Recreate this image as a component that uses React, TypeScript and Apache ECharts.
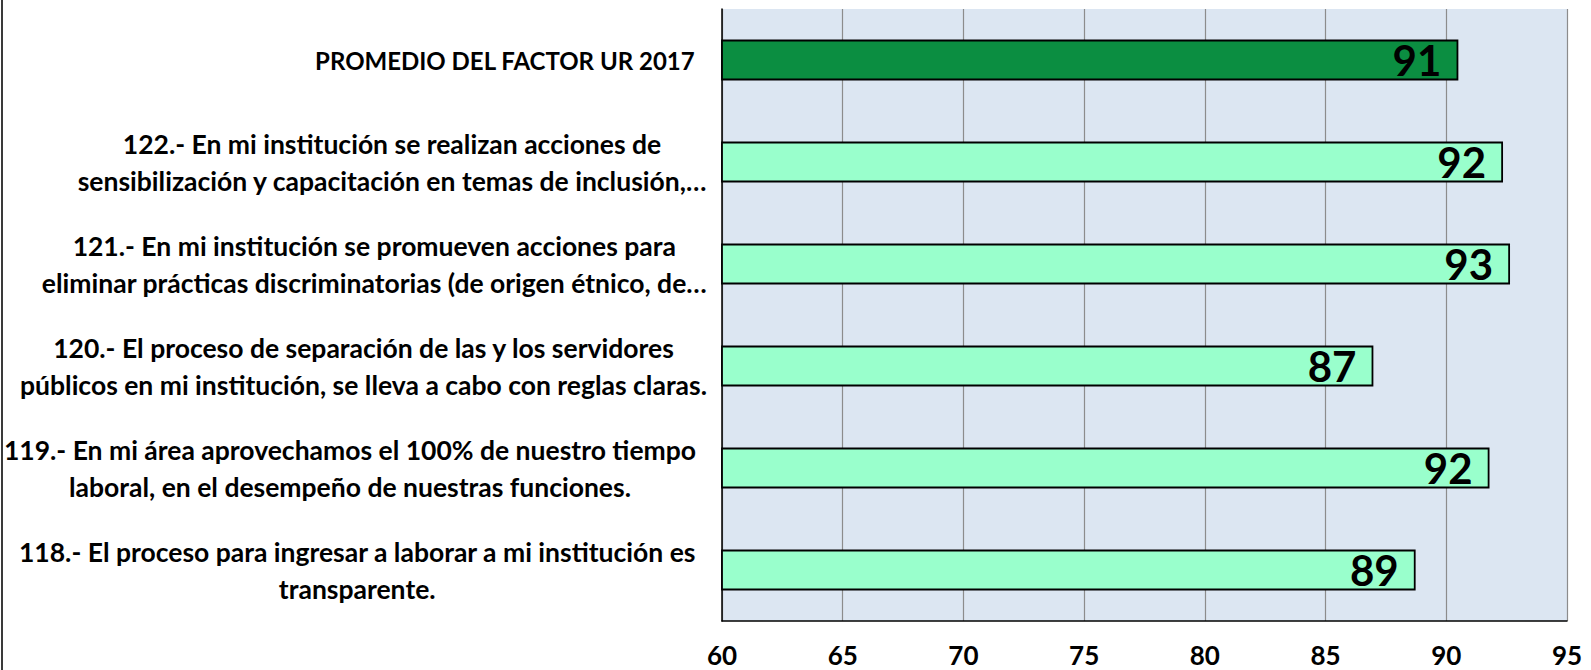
import React, { useEffect, useRef } from "react";
import * as echarts from "echarts";

const categories: string[] = [
  "PROMEDIO DEL FACTOR UR 2017",
  "122.- En mi institución se realizan acciones de\nsensibilización y capacitación en temas de inclusión,…",
  "121.- En mi institución se promueven acciones para\neliminar prácticas discriminatorias (de origen étnico, de…",
  "120.- El proceso de separación de las y los servidores\npúblicos en mi institución, se lleva a cabo con reglas claras.",
  "119.- En mi área aprovechamos el 100% de nuestro tiempo\nlaboral, en el desempeño de nuestras funciones.",
  "118.- El proceso para ingresar a laborar a mi institución es\ntransparente.",
];

const values: number[] = [90.5, 92.35, 92.64, 86.98, 91.79, 88.73];

const xTicks: number[] = [60, 65, 70, 75, 80, 85, 90, 95];

const FONT = "Lato";
const PAD_RIGHT = new Set([4, 5]);

export default function App() {
  const ref = useRef<HTMLDivElement>(null);

  useEffect(() => {
    document.body.style.margin = "0";
    if (!ref.current) return;
    const chart = echarts.init(ref.current, undefined, { renderer: "svg" });

    const base = {
      align: "center",
      fontFamily: FONT,
      fontWeight: "bold",
      fontSize: 26.5,
      lineHeight: 37,
      color: "#000000",
    };

    const option: any = {
      animation: false,
      backgroundColor: "#ffffff",
      grid: {
        left: 722,
        right: 24,
        top: 9,
        bottom: 49,
        containLabel: false,
        outerBoundsMode: "none",
        show: true,
        backgroundColor: "#DCE6F2",
        borderWidth: 0,
      },
      xAxis: {
        type: "value",
        min: xTicks[0],
        max: xTicks[xTicks.length - 1],
        interval: xTicks[1] - xTicks[0],
        axisLine: { show: true, lineStyle: { color: "#000000", width: 1.5 } },
        axisTick: { show: false },
        splitLine: { show: true, lineStyle: { color: "#8c8c8c", width: 1.2 } },
        axisLabel: {
          margin: 21,
          fontFamily: FONT,
          fontWeight: "bold",
          fontSize: 26,
          color: "#000000",
        },
      },
      yAxis: {
        type: "category",
        inverse: true,
        data: categories,
        axisLine: { show: true, onZero: false, lineStyle: { color: "#000000", width: 1.5 } },
        axisTick: { show: false },
        splitLine: { show: false },
        axisLabel: {
          margin: 15,
          align: "right",
          fontFamily: FONT,
          fontWeight: "bold",
          fontSize: 26.5,
          lineHeight: 37,
          color: "#000000",
          formatter: (v: string, idx: number) => {
            const style = idx === 0 ? "t" : PAD_RIGHT.has(idx) ? "p" : "c";
            return v
              .split("\n")
              .map((l) => `{${style}|${l}}`)
              .join("\n");
          },
          rich: {
            c: { ...base },
            p: { ...base, padding: [0, 11, 0, 0] },
            t: { ...base, fontSize: 24, padding: [0, 12, 0, 0] },
          },
        },
      },
      series: [
        {
          type: "bar",
          barWidth: "40%",
          data: values.map((v, i) => ({
            value: v,
            itemStyle: { color: i === 0 ? "#0B8E41" : "#99FFCC" },
          })),
          itemStyle: { borderColor: "#000000", borderWidth: 1.8 },
          label: {
            show: true,
            position: "insideRight",
            distance: 17,
            fontFamily: FONT,
            fontWeight: "bold",
            fontSize: 42,
            color: "#000000",
            formatter: (p: any) => Math.round(p.value).toString(),
          },
        },
      ],
      graphic: [
        {
          type: "line",
          shape: { x1: 2, y1: 0, x2: 2, y2: 670 },
          style: { stroke: "#3a3a3a", lineWidth: 2 },
          silent: true,
        },
      ],
    };

    chart.setOption(option);
    return () => chart.dispose();
  }, []);

  return <div ref={ref} style={{ width: 1591, height: 670 }} />;
}
